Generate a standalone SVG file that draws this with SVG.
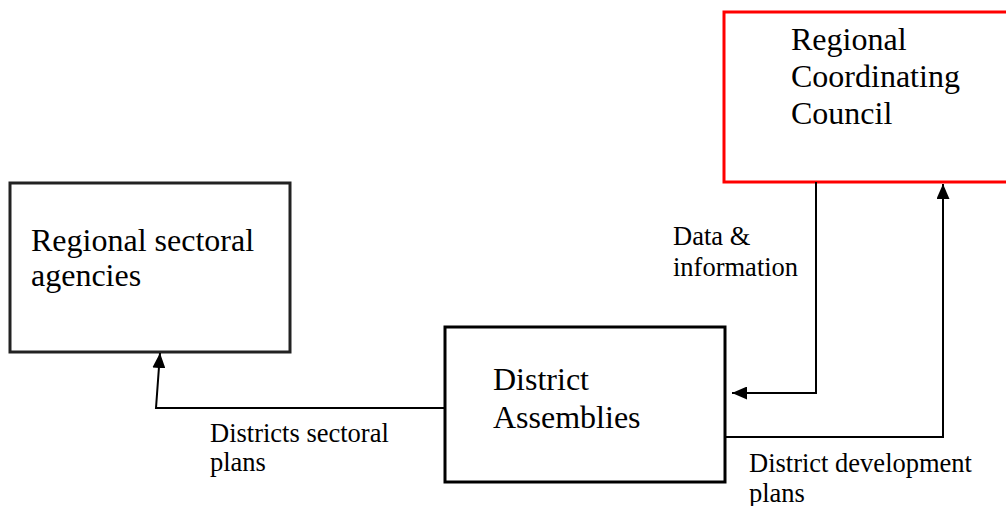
<svg xmlns="http://www.w3.org/2000/svg" width="1006" height="506" viewBox="0 0 1006 506">
  <style>
    .box { fill: #ffffff; stroke-width: 3; }
    .big { font-family: "Liberation Serif", "Times New Roman", serif; font-size: 32px; fill: #000; }
    .small { font-family: "Liberation Serif", "Times New Roman", serif; font-size: 26.5px; fill: #000; }
    .wire { fill: none; stroke: #000; stroke-width: 2; }
  </style>
  <defs>
    <marker id="arrow" viewBox="0 0 15 13" refX="15" refY="6.5" markerWidth="15" markerHeight="13" markerUnits="userSpaceOnUse" orient="auto">
      <path d="M0,0 L15,6.5 L0,13 Z" fill="#000"/>
    </marker>
  </defs>
  <rect width="1006" height="506" fill="#ffffff"/>

  <g id="regional-coordinating-council">
    <rect class="box" x="724" y="12" width="290" height="170" stroke="#ff0000"/>
    <text class="big" x="791" y="50">Regional</text>
    <text class="big" x="791" y="87">Coordinating</text>
    <text class="big" x="791" y="124">Council</text>
  </g>

  <g id="regional-sectoral-agencies">
    <rect class="box" x="10" y="183" width="280" height="169" stroke="#222222"/>
    <text class="big" x="31" y="251">Regional sectoral</text>
    <text class="big" x="31" y="286">agencies</text>
  </g>

  <g id="district-assemblies">
    <rect class="box" x="445" y="327" width="280" height="155" stroke="#000000"/>
    <text class="big" x="493" y="390">District</text>
    <text class="big" x="493" y="428">Assemblies</text>
  </g>

  <g id="connectors">
    <!-- sectoral plans up to the regional agencies -->
    <polyline class="wire" points="445,408 156,408 160,353" marker-end="url(#arrow)"/>
    <!-- data and information down to the assemblies -->
    <polyline class="wire" points="816,182 816,393 732,393" marker-end="url(#arrow)"/>
    <!-- development plans up to the council -->
    <polyline class="wire" points="725,437 943,437 943,184" marker-end="url(#arrow)"/>
  </g>

  <g id="labels">
    <text class="small" x="210" y="442">Districts sectoral</text>
    <text class="small" x="210" y="471">plans</text>
    <text class="small" x="673" y="245">Data &amp;</text>
    <text class="small" x="673" y="276">information</text>
    <text class="small" x="749" y="472">District development</text>
    <text class="small" x="749" y="502">plans</text>
  </g>
</svg>
